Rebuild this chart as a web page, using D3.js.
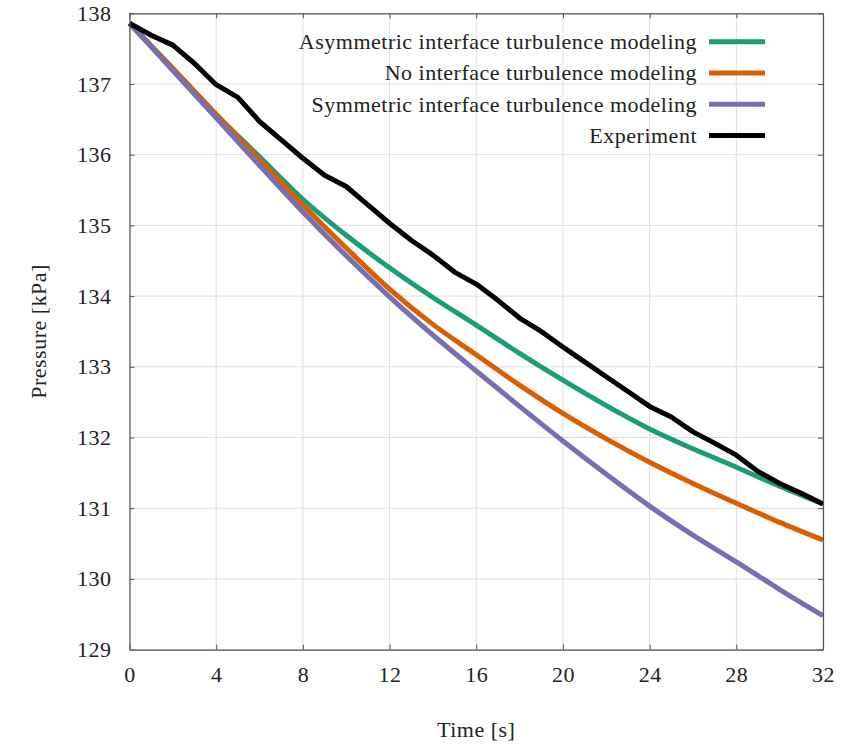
<!DOCTYPE html>
<html>
<head>
<meta charset="utf-8">
<script src="https://cdn.jsdelivr.net/npm/d3@7"></script>
<style>
body { margin: 0; background: #fff; }
text { font-family: "Liberation Serif", serif; fill: #222; }
</style>
</head>
<body>
<div id="chart"></div>
<script>
var time = [0, 2, 4, 6, 8, 10, 12, 14, 16, 18, 20, 22, 24, 26, 28, 30, 32];
var asym = [137.86, 137.22, 136.57, 135.97, 135.37, 134.86, 134.40, 133.98, 133.59, 133.19, 132.81, 132.45, 132.12, 131.84, 131.58, 131.31, 131.06];
var noTurb = [137.86, 137.22, 136.57, 135.93, 135.29, 134.68, 134.10, 133.60, 133.17, 132.74, 132.34, 131.98, 131.65, 131.35, 131.07, 130.80, 130.55];
var sym = [137.86, 137.19, 136.52, 135.85, 135.19, 134.57, 133.99, 133.45, 132.94, 132.44, 131.95, 131.48, 131.03, 130.62, 130.24, 129.85, 129.48];

var expTime = d3.range(0, 33);
var expP = [137.86, 137.69, 137.55, 137.29, 136.99, 136.81, 136.47, 136.21, 135.95, 135.71, 135.55, 135.29, 135.03, 134.79, 134.58, 134.34, 134.17,
            133.94, 133.69, 133.50, 133.28, 133.07, 132.86, 132.65, 132.44, 132.29, 132.08, 131.92, 131.75, 131.52, 131.35, 131.21, 131.06];

var xTicks = [0, 4, 8, 12, 16, 20, 24, 28, 32];
var yTicks = [129, 130, 131, 132, 133, 134, 135, 136, 137, 138];

var series = [
  {name: "Asymmetric interface turbulence modeling", color: "#1b9e77", x: time, y: asym},
  {name: "No interface turbulence modeling", color: "#d95f02", x: time, y: noTurb},
  {name: "Symmetric interface turbulence modeling", color: "#7570b3", x: time, y: sym},
  {name: "Experiment", color: "#000000", x: expTime, y: expP}
];

var mLeft = 129.5, mTop = 13.3, plotW = 693.5, plotH = 636.3;

var svg = d3.select("#chart").append("svg").attr("width", 843).attr("height", 744);

var x = d3.scaleLinear().domain([0, 32]).range([mLeft, mLeft + plotW]);
var y = d3.scaleLinear().domain([129, 138]).range([mTop + plotH, mTop]);

// grid
svg.append("g").selectAll("line").data(xTicks).enter().append("line")
    .attr("x1", function(d) { return x(d); }).attr("x2", function(d) { return x(d); })
    .attr("y1", mTop).attr("y2", mTop + plotH)
    .attr("stroke", "#dedede").attr("stroke-width", 1);
svg.append("g").selectAll("line").data(yTicks).enter().append("line")
    .attr("x1", mLeft).attr("x2", mLeft + plotW)
    .attr("y1", function(d) { return y(d); }).attr("y2", function(d) { return y(d); })
    .attr("stroke", "#dedede").attr("stroke-width", 1);

var smooth = d3.line().curve(d3.curveMonotoneX);

series.forEach(function(s, k) {
  var pts = s.x.map(function(t, i) { return [x(t), y(s.y[i])]; });
  svg.append("path")
      .attr("d", (k === 3 ? d3.line() : smooth)(pts))
      .attr("fill", "none")
      .attr("stroke", s.color)
      .attr("stroke-width", 5)
      .attr("stroke-linejoin", "round");
});

// axes, ticks point inward
var xAxisB = d3.axisBottom(x).tickValues(xTicks).tickSizeInner(-5).tickSizeOuter(0).tickPadding(17);
var xAxisT = d3.axisTop(x).tickValues(xTicks).tickSizeInner(-5).tickSizeOuter(0).tickFormat("");
var yAxisL = d3.axisLeft(y).tickValues(yTicks).tickSizeInner(-5).tickSizeOuter(0).tickPadding(18);
var yAxisR = d3.axisRight(y).tickValues(yTicks).tickSizeInner(-5).tickSizeOuter(0).tickFormat("");

function styleAxis(g) {
  g.select(".domain").attr("stroke", "#555").attr("stroke-width", 1.2);
  g.selectAll(".tick line").attr("stroke", "#555");
  g.selectAll(".tick text").style("font-family", "Liberation Serif, serif").style("font-size", "22px")
      .style("letter-spacing", "0.5px").attr("fill", "#222");
}

svg.append("g").attr("transform", "translate(0," + (mTop + plotH) + ")").call(xAxisB).call(styleAxis);
svg.append("g").attr("transform", "translate(0," + mTop + ")").call(xAxisT).call(styleAxis);
svg.append("g").attr("transform", "translate(" + mLeft + ",0)").call(yAxisL).call(styleAxis);
svg.append("g").attr("transform", "translate(" + (mLeft + plotW) + ",0)").call(yAxisR).call(styleAxis);

// axis titles
svg.append("text").attr("x", x(16)).attr("y", 737).attr("text-anchor", "middle")
    .style("font-size", "22px").style("letter-spacing", "0.5px").text("Time [s]");
svg.append("text").attr("transform", "translate(46," + (mTop + plotH / 2) + ") rotate(-90)")
    .attr("text-anchor", "middle").style("font-size", "22px").style("letter-spacing", "0.5px").text("Pressure [kPa]");

// legend
var legend = svg.append("g");
series.forEach(function(s, i) {
  var ly = 41.7 + i * 31.3;
  legend.append("text").attr("x", 697).attr("y", ly).attr("dy", "0.33em")
      .attr("text-anchor", "end").style("font-size", "22px").style("letter-spacing", "0.5px").text(s.name);
  legend.append("line").attr("x1", 709).attr("x2", 765).attr("y1", ly).attr("y2", ly)
      .attr("stroke", s.color).attr("stroke-width", 5);
});
</script>
</body>
</html>
